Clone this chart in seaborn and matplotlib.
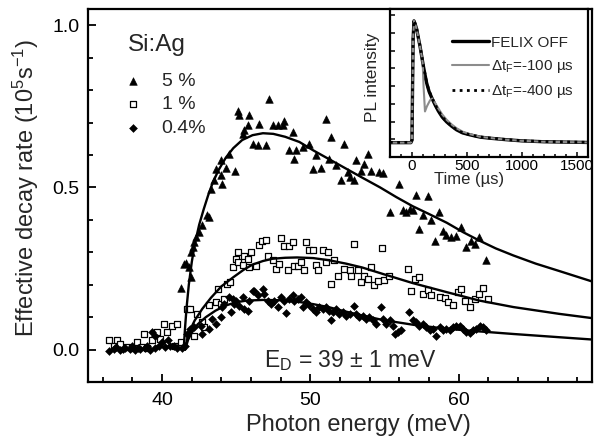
import pandas as pd
import seaborn as sns
import matplotlib.pyplot as plt
from matplotlib.ticker import MultipleLocator, NullFormatter

# Si:Ag effective decay rate vs photon energy
tri_5pct = [(41.3, 0.19), (41.49, 0.264), (41.6, 0.266), (41.82, 0.254), (41.94, 0.223),
            (41.94, 0.30), (42.05, 0.316), (42.16, 0.331), (42.27, 0.347), (42.5, 0.362),
            (42.72, 0.383), (43.06, 0.414), (43.18, 0.408), (43.29, 0.496), (43.5, 0.522),
            (43.63, 0.557), (43.96, 0.583), (43.96, 0.539), (44.07, 0.509), (44.3, 0.561),
            (44.53, 0.604), (44.93, 0.552), (45.09, 0.736), (45.2, 0.722), (45.43, 0.666),
            (45.54, 0.678), (45.77, 0.691), (45.88, 0.724), (46.1, 0.635), (46.44, 0.63),
            (46.55, 0.694), (47.0, 0.63), (47.23, 0.771), (47.45, 0.693), (47.79, 0.691),
            (48.13, 0.691), (48.24, 0.705), (48.58, 0.614), (48.8, 0.67), (48.92, 0.589),
            (49.03, 0.614), (49.48, 0.625), (49.93, 0.635), (50.15, 0.557), (50.37, 0.599),
            (50.72, 0.56), (51.06, 0.712), (51.28, 0.589), (51.4, 0.656), (51.73, 0.568),
            (52.07, 0.522), (52.3, 0.635), (52.52, 0.548), (52.64, 0.532), (52.97, 0.522),
            (53.08, 0.583), (53.42, 0.552), (53.65, 0.573), (53.87, 0.604), (54.1, 0.552),
            (54.66, 0.547), (54.89, 0.544), (55.34, 0.424), (56.0, 0.511), (56.24, 0.429),
            (56.45, 0.424), (56.7, 0.434), (56.9, 0.431), (57.13, 0.478), (57.36, 0.372),
            (57.6, 0.414), (57.93, 0.472), (58.15, 0.40), (58.38, 0.336), (58.7, 0.424),
            (58.94, 0.367), (59.16, 0.352), (59.5, 0.347), (59.84, 0.349), (60.18, 0.378),
            (60.5, 0.316), (60.86, 0.336), (61.08, 0.326), (61.4, 0.347), (61.86, 0.277)]

sq_1pct = [(36.4, 0.028), (36.74, 0.012), (36.96, 0.028), (37.18, 0.017), (37.64, 0.009),
           (37.97, 0.005), (38.3, 0.023), (38.65, 0.007), (38.76, 0.048), (38.99, 0.005),
           (39.32, 0.028), (39.66, 0.054), (39.88, 0.033), (40.11, 0.079), (40.34, 0.054),
           (40.68, 0.074), (40.9, 0.012), (41.0, 0.079), (41.24, 0.023), (41.69, 0.126),
           (41.91, 0.126), (42.14, 0.043), (42.36, 0.11), (42.7, 0.084), (42.8, 0.069),
           (43.15, 0.136), (43.6, 0.146), (43.74, 0.187), (43.94, 0.141), (44.17, 0.156),
           (44.35, 0.203), (44.6, 0.208), (44.75, 0.254), (44.97, 0.28), (45.09, 0.30),
           (45.09, 0.27), (45.43, 0.262), (45.54, 0.29), (45.77, 0.28), (45.88, 0.254),
           (46.0, 0.30), (46.33, 0.257), (46.55, 0.321), (46.77, 0.336), (47.0, 0.339),
           (47.11, 0.29), (47.45, 0.275), (47.68, 0.249), (47.9, 0.264), (48.02, 0.344),
           (48.24, 0.318), (48.47, 0.244), (48.58, 0.318), (48.8, 0.331), (48.92, 0.259),
           (49.14, 0.259), (49.37, 0.27), (49.6, 0.246), (49.71, 0.331), (49.93, 0.306),
           (50.16, 0.308), (50.38, 0.262), (50.5, 0.244), (50.83, 0.306), (51.06, 0.27),
           (51.17, 0.30), (51.4, 0.203), (51.62, 0.275), (51.85, 0.228), (52.3, 0.249),
           (52.64, 0.244), (52.75, 0.228), (52.97, 0.326), (53.2, 0.244), (53.42, 0.208),
           (53.65, 0.228), (53.87, 0.218), (54.1, 0.256), (54.32, 0.198), (54.55, 0.21),
           (54.85, 0.313), (55.0, 0.213), (55.3, 0.228), (56.57, 0.247), (56.8, 0.182),
           (57.03, 0.218), (57.36, 0.225), (57.6, 0.17), (57.93, 0.184), (58.16, 0.167),
           (58.72, 0.161), (59.05, 0.159), (59.28, 0.146), (59.6, 0.136), (59.95, 0.177),
           (60.18, 0.187), (60.4, 0.151), (60.74, 0.131), (61.08, 0.156), (61.37, 0.17),
           (61.64, 0.19), (61.98, 0.156)]

dia_04pct = [(36.4, -0.003), (36.74, 0.002), (36.9, 0.008), (37.18, -0.001), (37.35, 0.003),
             (37.52, 0.005), (37.86, 0.002), (38.0, 0.01), (38.2, -0.001), (38.4, 0.004),
             (38.53, 0.002), (38.87, 0.005), (39.0, 0.012), (39.21, -0.001), (39.32, 0.054),
             (39.5, 0.004), (39.55, 0.043), (39.78, 0.012), (40.0, 0.023), (40.22, 0.007),
             (40.4, 0.03), (40.56, 0.012), (40.8, 0.01), (41.0, 0.005), (41.35, 0.005),
             (41.57, 0.012), (41.69, 0.048), (41.91, 0.064), (42.14, 0.069), (42.59, 0.074),
             (42.7, 0.048), (43.16, 0.064), (43.38, 0.095), (43.6, 0.079), (43.94, 0.10),
             (44.05, 0.131), (44.17, 0.141), (44.5, 0.161), (44.62, 0.115), (44.84, 0.141),
             (44.75, 0.156), (44.98, 0.151), (45.2, 0.133), (45.43, 0.161), (45.54, 0.126),
             (45.77, 0.12), (45.88, 0.151), (46.1, 0.182), (46.2, 0.182), (46.44, 0.167),
             (46.78, 0.187), (46.89, 0.172), (47.11, 0.151), (47.34, 0.141), (47.57, 0.151),
             (47.79, 0.131), (48.02, 0.161), (48.24, 0.151), (48.36, 0.112), (48.58, 0.156),
             (48.8, 0.167), (48.92, 0.151), (49.14, 0.156), (49.37, 0.161), (49.48, 0.131),
             (49.71, 0.146), (49.93, 0.136), (50.16, 0.126), (50.38, 0.115), (50.6, 0.131),
             (50.83, 0.126), (51.06, 0.131), (51.28, 0.12), (51.4, 0.092), (51.5, 0.115),
             (51.73, 0.126), (51.96, 0.11), (52.18, 0.115), (52.4, 0.105), (52.64, 0.11),
             (52.97, 0.133), (53.08, 0.11), (53.3, 0.10), (53.53, 0.105), (53.76, 0.095),
             (53.98, 0.10), (54.2, 0.09), (54.44, 0.079), (54.78, 0.131), (54.89, 0.095),
             (55.12, 0.079), (55.34, 0.09), (55.56, 0.074), (55.7, 0.048), (55.9, 0.054),
             (56.12, 0.059), (56.65, 0.116), (56.91, 0.09), (57.14, 0.084), (57.36, 0.074),
             (57.59, 0.079), (57.82, 0.069), (58.04, 0.059), (58.27, 0.064), (58.5, 0.043),
             (58.72, 0.069), (58.94, 0.059), (59.17, 0.064), (59.39, 0.059), (59.6, 0.069),
             (59.84, 0.074), (60.07, 0.074), (60.3, 0.064), (60.52, 0.054), (60.74, 0.05),
             (60.97, 0.059), (61.2, 0.064), (61.42, 0.074), (61.64, 0.069), (61.86, 0.059)]

# fitted curves
fit_5pct = [(41.45, 0.0), (41.55, 0.07), (41.65, 0.13), (41.8, 0.2), (42.0, 0.27),
            (42.2, 0.325), (42.5, 0.385), (42.8, 0.432), (43.1, 0.475), (43.4, 0.513),
            (43.8, 0.553), (44.3, 0.592), (44.8, 0.621), (45.4, 0.646), (46.1, 0.661),
            (46.8, 0.667), (47.5, 0.665), (48.3, 0.656), (49.26, 0.64), (50.2, 0.614),
            (51.3, 0.586), (52.4, 0.558), (53.5, 0.53), (54.7, 0.5), (55.8, 0.47),
            (56.9, 0.442), (58.0, 0.418), (59.2, 0.391), (60.3, 0.362), (61.4, 0.336),
            (62.5, 0.312), (63.7, 0.29), (65.2, 0.265), (66.8, 0.242), (69.0, 0.21)]
fit_1pct = [(41.55, 0.0), (41.7, 0.035), (41.9, 0.062), (42.2, 0.09), (42.7, 0.125),
            (43.3, 0.16), (44.0, 0.195), (44.8, 0.223), (45.5, 0.246), (46.1, 0.262),
            (46.8, 0.273), (47.45, 0.28), (48.3, 0.283), (49.1, 0.284), (50.2, 0.282),
            (51.3, 0.275), (52.4, 0.265), (53.5, 0.253), (54.9, 0.233), (56.9, 0.205),
            (59.2, 0.177), (61.4, 0.151), (63.7, 0.131), (66.8, 0.11), (69.0, 0.097)]
fit_04pct = [(41.55, 0.0), (41.75, 0.03), (42.0, 0.052), (42.4, 0.078), (42.95, 0.10),
             (43.6, 0.12), (44.3, 0.136), (45.0, 0.146), (45.7, 0.151), (46.8, 0.153),
             (48.0, 0.152), (49.2, 0.147), (50.2, 0.14), (51.3, 0.13), (52.4, 0.117),
             (53.5, 0.105), (54.9, 0.091), (57.0, 0.076), (59.2, 0.064), (61.4, 0.056),
             (63.7, 0.048), (66.8, 0.038), (69.0, 0.031)]

# inset: PL transients (arb. units)
pl_felix_off = [(-200, -0.19), (-100, -0.19), (-10, -0.19), (0, -0.05), (5, 2.9), (10, 5.65),
                (18, 6.68), (30, 6.47), (43, 6.2), (60, 5.65), (73, 5.24), (90, 4.62),
                (103, 4.14), (120, 3.59), (133, 3.18), (155, 2.7), (179, 2.35), (210, 1.94),
                (239, 1.6), (275, 1.25), (315, 0.98), (360, 0.74), (406, 0.53), (460, 0.36),
                (527, 0.25), (620, 0.12), (709, 0.06), (850, -0.02), (1000, -0.09),
                (1200, -0.14), (1400, -0.16), (1600, -0.18)]
pl_dt_100 = [(-200, -0.19), (-100, -0.19), (-10, -0.19), (0, -0.05), (5, 2.9), (10, 5.65),
             (18, 6.68), (30, 6.47), (43, 6.2), (60, 5.65), (73, 5.24), (90, 4.62),
             (97, 4.3), (105, 3.0), (118, 1.57), (135, 1.85), (164, 2.2), (185, 2.3),
             (210, 2.05), (240, 1.74), (275, 1.4), (315, 1.1), (360, 0.84), (406, 0.62),
             (460, 0.43), (527, 0.29), (620, 0.14), (709, 0.07), (850, -0.02),
             (1000, -0.09), (1200, -0.14), (1400, -0.16), (1600, -0.18)]
pl_dt_400 = [(-200, -0.17), (-100, -0.18), (-10, -0.17), (0, -0.03), (5, 3.0), (10, 5.7),
             (18, 6.7), (30, 6.5), (43, 6.22), (60, 5.68), (73, 5.27), (90, 4.66),
             (103, 4.18), (120, 3.62), (133, 3.2), (155, 2.73), (179, 2.37), (210, 1.96),
             (239, 1.62), (275, 1.27), (315, 0.99), (360, 0.75), (406, 0.54), (460, 0.37),
             (527, 0.25), (620, 0.13), (709, 0.07), (850, -0.01), (1000, -0.08),
             (1200, -0.13), (1400, -0.15), (1600, -0.17)]


def frame(pairs):
    return pd.DataFrame(pairs, columns=['x', 'y'])


sns.set_style('ticks')
plt.rcParams['font.family'] = ['Liberation Sans', 'DejaVu Sans']
plt.rcParams['mathtext.default'] = 'regular'
plt.rcParams['xtick.direction'] = 'in'
plt.rcParams['ytick.direction'] = 'in'

fig = plt.figure(figsize=(6, 4.43), dpi=100)
ax = fig.add_axes([0.1467, 0.1377, 0.84, 0.842])

d5, d1, d04 = frame(tri_5pct), frame(sq_1pct), frame(dia_04pct)
sns.scatterplot(data=d5, x='x', y='y', marker='^', s=30, color='black',
                edgecolor='black', linewidth=0.4, label='5 %', ax=ax, zorder=3)
sns.scatterplot(data=d1, x='x', y='y', marker='s', s=20, color='white',
                edgecolor='black', linewidth=0.9, label='1 %', ax=ax, zorder=3)
sns.scatterplot(data=d04, x='x', y='y', marker='D', s=16, color='black',
                edgecolor='black', linewidth=0.4, label='0.4%', ax=ax, zorder=3)

for fit in (fit_5pct, fit_1pct, fit_04pct):
    f = frame(fit)
    sns.lineplot(data=f, x='x', y='y', color='black', linewidth=1.7,
                 estimator=None, ax=ax, zorder=4)

ax.set_xlim(35, 69)
ax.set_ylim(-0.1, 1.05)
ax.xaxis.set_major_locator(MultipleLocator(10))
ax.xaxis.set_minor_locator(MultipleLocator(2))
ax.yaxis.set_major_locator(MultipleLocator(0.5))
ax.yaxis.set_minor_locator(MultipleLocator(0.1))
ax.tick_params(which='both', direction='in', top=False, right=False,
               width=1.3, labelsize=14, colors='black')
ax.tick_params(axis='x', which='major', length=6, pad=7)
ax.tick_params(axis='y', which='major', length=6, pad=6)
ax.tick_params(which='minor', length=3.5)
for sp in ax.spines.values():
    sp.set_linewidth(1.6)
    sp.set_color('black')

ax.set_xlabel('Photon energy (meV)', fontsize=17)
ax.set_ylabel('Effective decay rate (10$^{5}$s$^{-1}$)', fontsize=17)
ax.xaxis.set_label_coords(0.537, -0.085)
ax.yaxis.set_label_coords(-0.093, 0.521)

ax.text(37.7, 0.922, 'Si:Ag', fontsize=17.5, ha='left', va='baseline')
ax.text(46.9, -0.055, 'E$_{D}$ = 39 $\\pm$ 1 meV', fontsize=16.5, ha='left', va='baseline')

handles, labels = ax.get_legend_handles_labels()
ax.legend(handles[:3], labels[:3], loc='upper left', bbox_to_anchor=(0.069, 0.83),
          frameon=False, fontsize=14, handlelength=1.0, handletextpad=1.0,
          labelspacing=0.3, borderpad=0, borderaxespad=0, markerscale=1.0)

# inset
ins = fig.add_axes([0.65, 0.6456, 0.33, 0.3341])
ins.set_facecolor('white')
off, d100, d400 = frame(pl_felix_off), frame(pl_dt_100), frame(pl_dt_400)
sns.lineplot(data=off, x='x', y='y', color='black', linewidth=2.4, estimator=None,
             label='FELIX OFF', ax=ins)
sns.lineplot(data=d100, x='x', y='y', color='#8c8c8c', linewidth=1.5, estimator=None,
             label='$\\Delta$t$_{F}$=-100 µs', ax=ins)
sns.lineplot(data=d400, x='x', y='y', color='black', linewidth=2.0, estimator=None,
             linestyle=(0, (1, 1.6)), label='$\\Delta$t$_{F}$=-400 µs', ax=ins)
ins.set_xlim(-200, 1600)
ins.set_ylim(-1.0, 7.35)
ins.xaxis.set_major_locator(MultipleLocator(500))
ins.xaxis.set_minor_locator(MultipleLocator(100))
ins.yaxis.set_major_locator(MultipleLocator(1))
ins.yaxis.set_major_formatter(NullFormatter())
ins.tick_params(which='both', direction='in', top=False, right=False,
                width=1.1, labelsize=11, pad=1.5, colors='black')
ins.tick_params(which='major', length=3.5)
ins.tick_params(which='minor', length=2.5)
for sp in ins.spines.values():
    sp.set_linewidth(1.6)
    sp.set_color('black')
ins.set_xlabel('Time (µs)', fontsize=12, labelpad=0)
ins.set_ylabel('PL intensity', fontsize=12.5)
ins.xaxis.set_label_coords(0.40, -0.10)
ins.yaxis.set_label_coords(-0.05, 0.54)
ins.legend(loc='upper right', bbox_to_anchor=(0.93, 0.82), frameon=False, fontsize=11,
           handlelength=2.4, handletextpad=0.15, labelspacing=0.55,
           borderpad=0, borderaxespad=0)

plt.savefig('out.png', dpi=100)
